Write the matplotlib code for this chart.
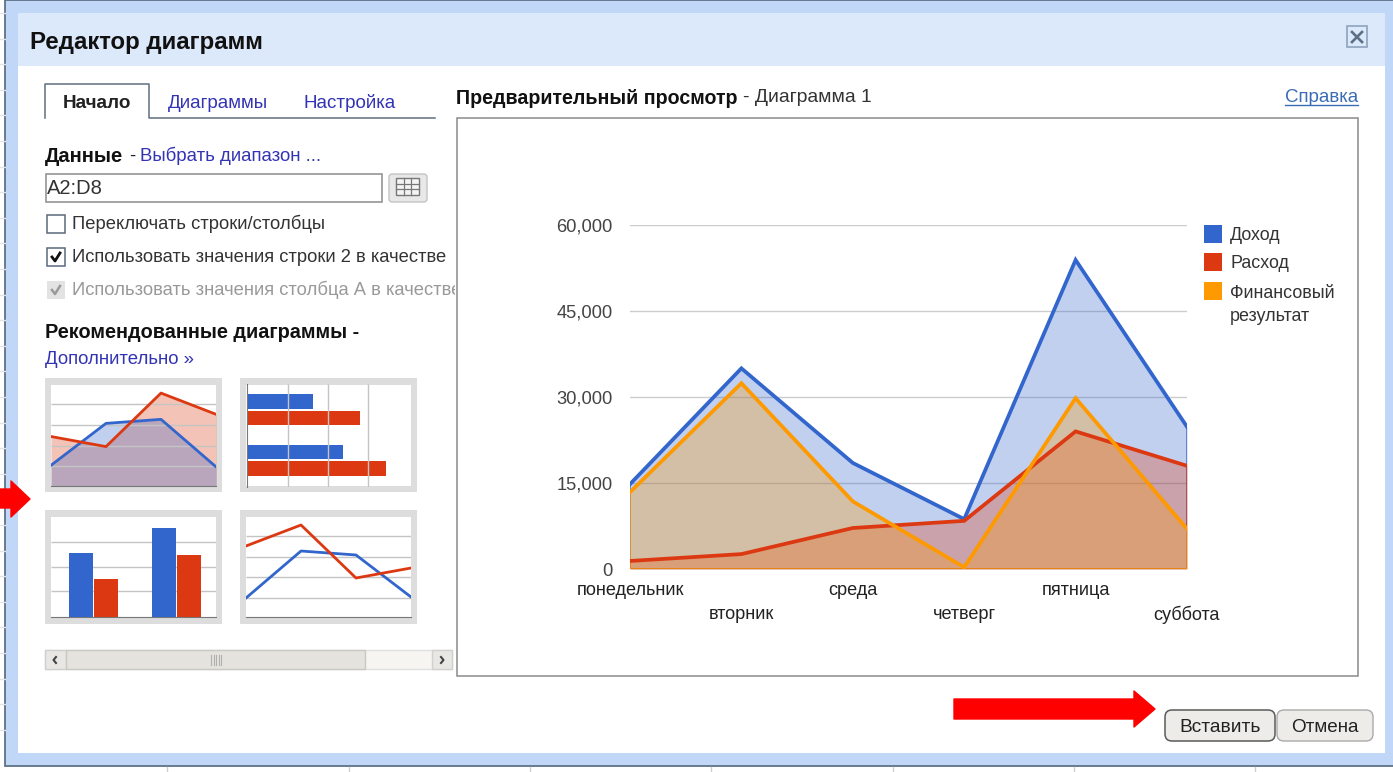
import matplotlib
matplotlib.use('Agg')
import matplotlib.pyplot as plt
from matplotlib.patches import Rectangle, Polygon, FancyBboxPatch

plt.rcParams['font.family'] = ['Liberation Sans', 'DejaVu Sans']

W, H = 1393, 772

# main chart
days = ['понедельник', 'вторник', 'среда', 'четверг', 'пятница', 'суббота']
income = [14800, 35000, 18500, 8700, 53900, 24800]
expense = [1400, 2600, 7150, 8400, 24000, 18000]
result = [13400, 32400, 11800, 300, 29800, 7000]
y_ticks = [0, 15000, 30000, 45000, 60000]
y_labels = ['0', '15,000', '30,000', '45,000', '60,000']
legend_labels = ['Доход', 'Расход', 'Финансовый\nрезультат']

# thumbnails
thumb_area_blue = [20.5, 62, 66, 19]
thumb_area_red = [49, 39, 92, 71]
thumb_hbar_blue = [41, 59]
thumb_hbar_red = [70, 86]
thumb_col_blue = [64, 89]
thumb_col_red = [38, 62]
thumb_line_blue = [19, 66, 62, 20]
thumb_line_red = [71, 92, 39, 49]

BLUE = '#3366cc'
RED = '#dc3912'
ORANGE = '#ff9900'
LINK = '#3333b5'
GRID = '#cccccc'

fig = plt.figure(figsize=(W / 100, H / 100), dpi=100)
bg = fig.add_axes([0, 0, 1, 1])
bg.set_xlim(0, W)
bg.set_ylim(H, 0)
bg.axis('off')


def box(x0, y0, x1, y1, fc='none', ec='none', lw=1.0, z=1):
    r = Rectangle((x0, y0), x1 - x0, y1 - y0, facecolor=fc, edgecolor=ec, linewidth=lw, zorder=z)
    bg.add_patch(r)
    return r


def txt(x, y, s, size=13.25, color='#222222', weight='normal', ha='left'):
    return bg.text(x, y, s, fontsize=size, color=color, fontweight=weight, ha=ha, va='center', zorder=5)


def sub_axes(x0, y0, x1, y1):
    a = fig.add_axes([x0 / W, 1 - y1 / H, (x1 - x0) / W, (y1 - y0) / H])
    a.patch.set_alpha(0)
    a.set_xticks([])
    a.set_yticks([])
    for s in a.spines.values():
        s.set_visible(False)
    return a


# spreadsheet showing behind the dialog
for i in range(29):
    bg.plot([0, 5], [13 + i * 25.6] * 2, color='#e4e4e4', lw=1)
for x in [167, 349, 530, 711, 893, 1074, 1255]:
    bg.plot([x, x], [767, 772], color='#cfcfcf', lw=1)

# dialog frame
box(5, 0, W + 5, 766, fc='#c0d7f8', ec='#5f7188', lw=1.3, z=1)
box(18, 13, 1385, 753, fc='white', z=2)
box(18, 13, 1385, 66, fc='#dce9fb', z=2)
txt(30, 42, 'Редактор диаграмм', size=17.3, color='#111111', weight='bold')
box(1347, 26, 1367, 47, ec='#8fa3bd', lw=1.2, z=3)
bg.plot([1352, 1362], [32, 42], color='#5f6f85', lw=1.9, zorder=4)
bg.plot([1362, 1352], [32, 42], color='#5f6f85', lw=1.9, zorder=4)

# tabs
bg.plot([45, 45, 149, 149, 435], [118, 84, 84, 118, 118], color='#5f6f7f', lw=1.1, zorder=3)
txt(97.5, 103, 'Начало', size=13.6, weight='bold', ha='center')
txt(217.5, 103, 'Диаграммы', size=13.5, color=LINK, ha='center')
txt(349.5, 103, 'Настройка', size=13.5, color=LINK, ha='center')

# data range controls
txt(45, 156, 'Данные', size=14.5, color='#111111', weight='bold')
txt(129, 156, '-', size=13.25)
txt(140, 156, 'Выбрать диапазон ...', size=13.4, color=LINK)
box(45.5, 173.5, 382, 201.5, fc='white', ec='#8c8c8c', lw=1.1, z=3)
txt(47, 188, 'A2:D8', size=14.5, color='#333333')
bg.add_patch(FancyBboxPatch((390, 175), 36, 26, boxstyle='round,pad=1,rounding_size=3',
                            fc='#e8e8e8', ec='#c4c4c4', lw=1, zorder=3))
box(396, 178, 419, 195, fc='#f4f4f4', ec='#777777', lw=1, z=4)
for gx in [403.5, 411]:
    bg.plot([gx, gx], [178, 195], color='#777777', lw=0.9, zorder=5)
for gy in [183.5, 189]:
    bg.plot([396, 419], [gy, gy], color='#777777', lw=0.9, zorder=5)

box(47, 215, 65, 233, fc='white', ec='#5a6a7a', lw=1.1, z=3)
txt(72, 224, 'Переключать строки/столбцы', color='#333333')
box(47, 248, 65, 266, fc='white', ec='#5a6a7a', lw=1.1, z=3)
bg.plot([52, 55, 60], [257, 261, 253], color='#111111', lw=2, zorder=4)
txt(72, 257, 'Использовать значения строки 2 в качестве', color='#333333')
box(47, 281, 65, 299, fc='#e3e3e3', z=3)
bg.plot([52, 55, 60], [290, 294, 286], color='#9a9a9a', lw=1.8, zorder=4)
t = txt(72, 290, 'Использовать значения столбца А в качестве', color='#999999')
t.set_clip_path(Rectangle((0, 270), 455, 40, transform=bg.transData))
t.set_clip_on(True)

txt(45, 333, 'Рекомендованные диаграммы -', size=14.3, color='#111111', weight='bold')
txt(45, 359, 'Дополнительно »', size=13.4, color=LINK)

# thumbnail frames
for fx0, fy0, fx1, fy1 in [(45, 378, 222, 492), (240, 378, 417, 492), (45, 510, 222, 624), (240, 510, 417, 624)]:
    box(fx0, fy0, fx1, fy1, fc='#dddddd', z=2)
    box(fx0 + 6, fy0 + 7, fx1 - 6, fy1 - 6, fc='white', z=2)

pos = range(4)

a1 = sub_axes(51, 385, 216, 486)
a1.set_xlim(0, 3)
a1.set_ylim(0, 100)
a1.hlines([20, 40, 60, 81], 0, 3, color='#c4c4c4', lw=1)
a1.fill_between(pos, thumb_area_red, color=RED, alpha=0.3, lw=0)
a1.fill_between(pos, thumb_area_blue, color=BLUE, alpha=0.3, lw=0)
a1.plot(pos, thumb_area_blue, color=BLUE, lw=2)
a1.plot(pos, thumb_area_red, color=RED, lw=2)
a1.spines['bottom'].set_visible(True)
a1.spines['bottom'].set_color('#777777')

a2 = sub_axes(247, 384, 409, 487)
a2.set_xlim(0, 100)
a2.set_ylim(0, 4)
a2.vlines([25, 50, 75], 0, 4, color='#c4c4c4', lw=1)
a2.barh([3.32, 1.36], thumb_hbar_blue, height=0.57, color=BLUE)
a2.barh([2.68, 0.72], thumb_hbar_red, height=0.57, color=RED)
a2.spines['left'].set_visible(True)
a2.spines['left'].set_color('#777777')

a3 = sub_axes(51, 517, 216, 617)
a3.set_xlim(0, 4)
a3.set_ylim(0, 100)
a3.hlines([26, 50, 75], 0, 4, color='#c4c4c4', lw=1)
a3.bar([0.73, 2.73], thumb_col_blue, width=0.58, color=BLUE, zorder=3)
a3.bar([1.34, 3.35], thumb_col_red, width=0.58, color=RED, zorder=3)
a3.spines['bottom'].set_visible(True)
a3.spines['bottom'].set_color('#777777')

a4 = sub_axes(246, 517, 411, 617)
a4.set_xlim(0, 3)
a4.set_ylim(0, 100)
a4.hlines([19, 40, 60, 81], 0, 3, color='#c4c4c4', lw=1)
a4.plot(pos, thumb_line_blue, color=BLUE, lw=2)
a4.plot(pos, thumb_line_red, color=RED, lw=2)
a4.spines['bottom'].set_visible(True)
a4.spines['bottom'].set_color('#777777')

# scrollbar
box(45, 650, 452, 669, fc='#f6f5f2', ec='#e0e0e0', lw=1, z=2)
box(45, 650, 66, 669, fc='#e8e7e3', ec='#d0d0d0', lw=1, z=3)
box(432, 650, 452, 669, fc='#e8e7e3', ec='#d0d0d0', lw=1, z=3)
box(66, 650, 365, 669, fc='#e4e3dd', ec='#c8c8c4', lw=1, z=3)
for gx in [211, 213.5, 216, 218.5, 221]:
    bg.plot([gx, gx], [655, 665], color='#b0b0b0', lw=0.8, zorder=4)
bg.plot([56, 53.5, 56], [657, 660, 663], color='#444444', lw=1.5, zorder=4)
bg.plot([441, 443.5, 441], [657, 660, 663], color='#444444', lw=1.5, zorder=4)

# preview panel
txt(456, 98, 'Предварительный просмотр', size=14.1, color='#111111', weight='bold')
txt(743, 98, '- Диаграмма 1', size=13.9, color='#333333')
txt(1358, 98, 'Справка', size=13.5, color='#3a6cb5', ha='right')
bg.plot([1285, 1358], [105, 105], color='#3a6cb5', lw=1, zorder=5)
box(457, 118, 1358, 676, fc='white', ec='#8a8a8a', lw=1.1, z=2)

ax = sub_axes(630, 225, 1187, 569)
ax.set_xlim(0, 5)
ax.set_ylim(0, 60000)
ax.set_yticks(y_ticks)
ax.set_yticklabels(y_labels, fontsize=13.2, color='#444444')
ax.set_xticks(range(6))
ax.set_xticklabels(days, fontsize=13.1, color='#222222')
ax.tick_params(axis='y', length=0, pad=12.5)
ax.tick_params(axis='x', length=0)
for i, tick in enumerate(ax.xaxis.get_major_ticks()):
    tick.set_pad(9.7 if i % 2 == 0 else 26.5)
ax.grid(axis='y', color=GRID, lw=1)
ax.set_axisbelow(True)
for series, col in [(income, BLUE), (expense, RED), (result, ORANGE)]:
    ax.fill_between(range(6), series, color=col, alpha=0.3, lw=0, zorder=2)
    ax.fill_between(range(6), series, facecolor='none', edgecolor=col, lw=1, zorder=2.5)
    ax.plot(range(6), series, color=col, lw=2.7, zorder=3, solid_joinstyle='miter')

# legend
for ly, col in zip([234, 262, 291], [BLUE, RED, ORANGE]):
    box(1204, ly - 9, 1222, ly + 9, fc=col, z=3)
for ly, lab in zip([236, 263, 305], legend_labels):
    txt(1230, ly, lab, size=12.9, color='#333333').set_linespacing(1.5)

# bottom buttons
bg.add_patch(FancyBboxPatch((1167, 712), 106, 27, boxstyle='round,pad=2,rounding_size=7',
                            fc='#eeece8', ec='#5a5a5a', lw=1.1, zorder=3))
bg.add_patch(FancyBboxPatch((1279, 712), 92, 27, boxstyle='round,pad=2,rounding_size=7',
                            fc='#eeece8', ec='#aaaaaa', lw=1, zorder=3))
txt(1220, 727, 'Вставить', size=13.8, ha='center')
txt(1325, 727, 'Отмена', size=13.6, ha='center')

# red arrows
bg.add_patch(Polygon([(0, 489), (11, 489), (11, 481), (30, 499), (11, 517), (11, 508), (0, 508)],
                     fc='#ff0000', ec='#ff0000', lw=1, joinstyle='round', zorder=6))
bg.add_patch(Polygon([(954, 699), (1134, 699), (1134, 691), (1155, 709), (1134, 727), (1134, 719), (954, 719)],
                     fc='#ff0000', ec='#ff0000', lw=1, joinstyle='round', zorder=6))

fig.savefig('out.png', dpi=100)
